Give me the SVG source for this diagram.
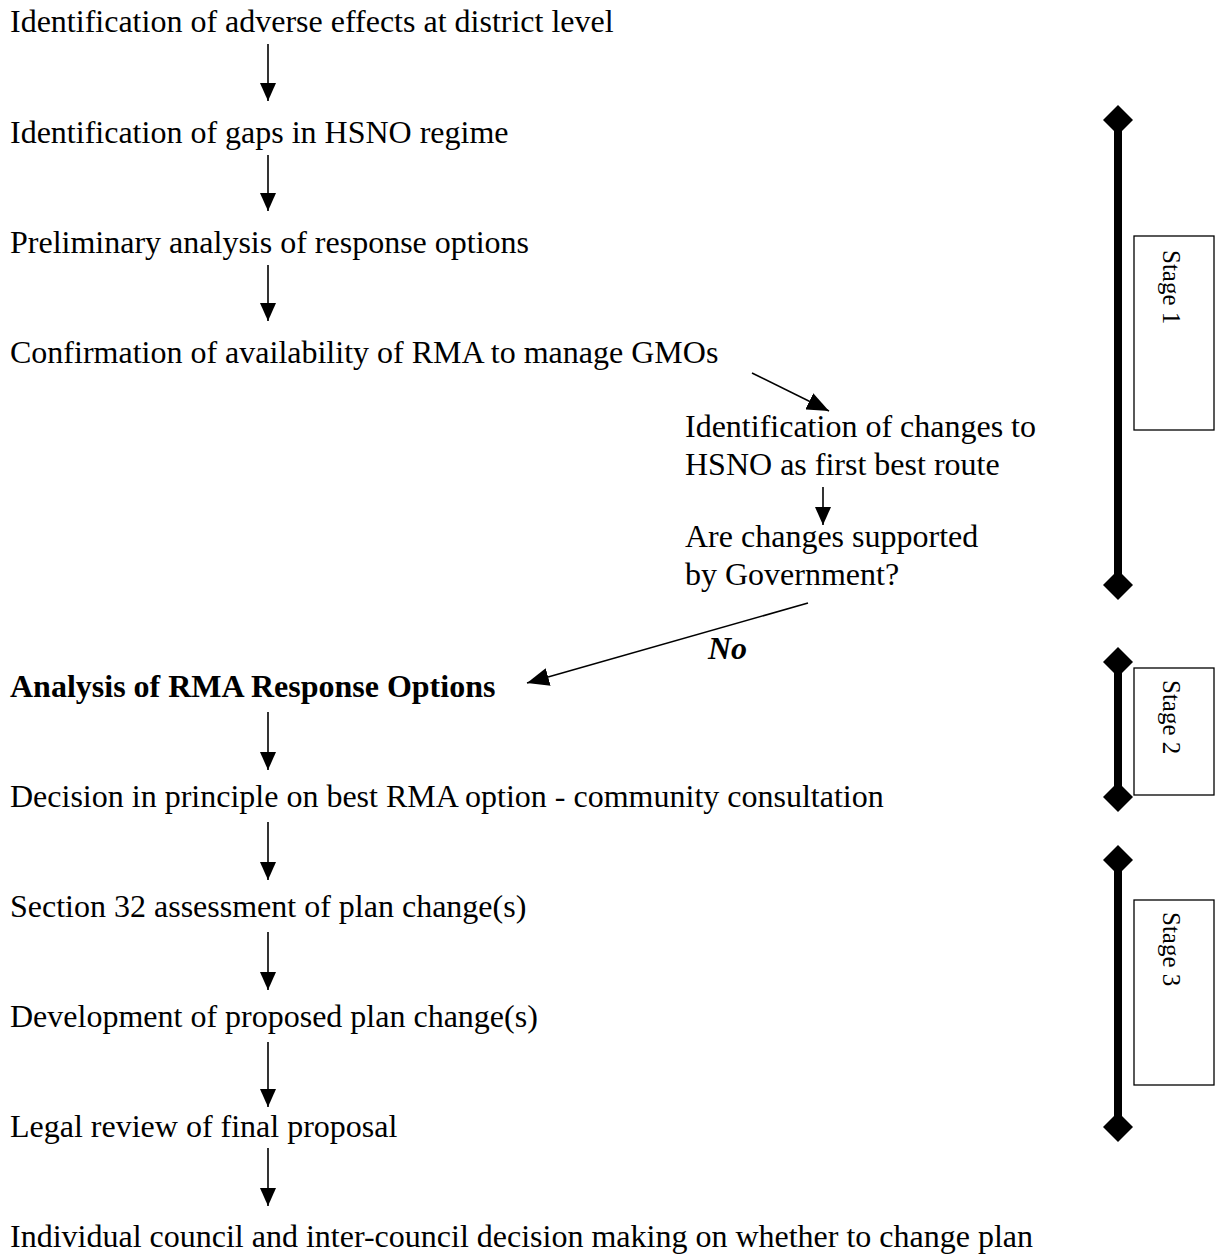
<svg xmlns="http://www.w3.org/2000/svg" width="1217" height="1254" viewBox="0 0 1217 1254">
<style>
text{font-family:"Liberation Serif","Times New Roman",serif;font-size:32px;fill:#000}
.b{font-weight:bold}
.bi{font-weight:bold;font-style:italic}
.st{font-size:25px}
.c{stroke:#000;stroke-width:1.6;fill:none}
.bar{stroke:#000;stroke-width:8;fill:none}
.box{fill:#fff;stroke:#000;stroke-width:1.3}
</style>
<defs>
<marker id="ah" viewBox="0 0 18 16" refX="18" refY="8" markerWidth="18" markerHeight="16" markerUnits="userSpaceOnUse" orient="auto"><path d="M0,0 L18,8 L0,16 Z" fill="#000"/></marker>
<marker id="ahd" viewBox="0 0 22 18" refX="22" refY="9" markerWidth="22" markerHeight="18" markerUnits="userSpaceOnUse" orient="auto"><path d="M0,0 L22,9 L0,18 Z" fill="#000"/></marker>
<path id="dia" d="M0,-15 L15,0 L0,15 L-15,0 Z" fill="#000"/>
</defs>
<g id="n1"><text x="10" y="32">Identification of adverse effects at district level</text></g>
<g id="n2"><text x="10" y="143">Identification of gaps in HSNO regime</text></g>
<g id="n3"><text x="10" y="253">Preliminary analysis of response options</text></g>
<g id="n4"><text x="10" y="363">Confirmation of availability of RMA to manage GMOs</text></g>
<g id="n5"><text x="685" y="437">Identification of changes to</text><text x="685" y="475">HSNO as first best route</text></g>
<g id="n6"><text x="685" y="547">Are changes supported</text><text x="685" y="585">by Government?</text></g>
<g id="n7"><text class="b" x="10" y="697">Analysis of RMA Response Options</text></g>
<g id="n8"><text x="10" y="807">Decision in principle on best RMA option - community consultation</text></g>
<g id="n9"><text x="10" y="917">Section 32 assessment of plan change(s)</text></g>
<g id="n10"><text x="10" y="1027">Development of proposed plan change(s)</text></g>
<g id="n11"><text x="10" y="1137">Legal review of final proposal</text></g>
<g id="n12"><text x="10" y="1247">Individual council and inter-council decision making on whether to change plan</text></g>
<g id="connectors">
<line class="c" x1="268" y1="44" x2="268" y2="101" marker-end="url(#ah)"/>
<line class="c" x1="268" y1="155" x2="268" y2="211" marker-end="url(#ah)"/>
<line class="c" x1="268" y1="265" x2="268" y2="321" marker-end="url(#ah)"/>
<line class="c" x1="752" y1="373" x2="829" y2="411" marker-end="url(#ahd)"/>
<line class="c" x1="823" y1="487" x2="823" y2="525" marker-end="url(#ah)"/>
<line class="c" x1="808" y1="603" x2="527" y2="683" marker-end="url(#ahd)"/>
<text class="bi" x="708" y="659">No</text>
<line class="c" x1="268" y1="712" x2="268" y2="770" marker-end="url(#ah)"/>
<line class="c" x1="268" y1="822" x2="268" y2="880" marker-end="url(#ah)"/>
<line class="c" x1="268" y1="932" x2="268" y2="990" marker-end="url(#ah)"/>
<line class="c" x1="268" y1="1042" x2="268" y2="1107" marker-end="url(#ah)"/>
<line class="c" x1="268" y1="1148" x2="268" y2="1206" marker-end="url(#ah)"/>
</g>
<g id="stage1">
<line class="bar" x1="1118" y1="120" x2="1118" y2="585"/>
<use href="#dia" x="1118" y="120"/><use href="#dia" x="1118" y="585"/>
<rect class="box" x="1134" y="236" width="80" height="194"/>
<text class="st" transform="translate(1163,250) rotate(90)">Stage 1</text>
</g>
<g id="stage2">
<line class="bar" x1="1118" y1="662" x2="1118" y2="797"/>
<use href="#dia" x="1118" y="662"/><use href="#dia" x="1118" y="797"/>
<rect class="box" x="1134" y="668" width="80" height="127"/>
<text class="st" transform="translate(1163,680) rotate(90)">Stage 2</text>
</g>
<g id="stage3">
<line class="bar" x1="1118" y1="860" x2="1118" y2="1127"/>
<use href="#dia" x="1118" y="860"/><use href="#dia" x="1118" y="1127"/>
<rect class="box" x="1134" y="900" width="80" height="185"/>
<text class="st" transform="translate(1163,912) rotate(90)">Stage 3</text>
</g>
</svg>
